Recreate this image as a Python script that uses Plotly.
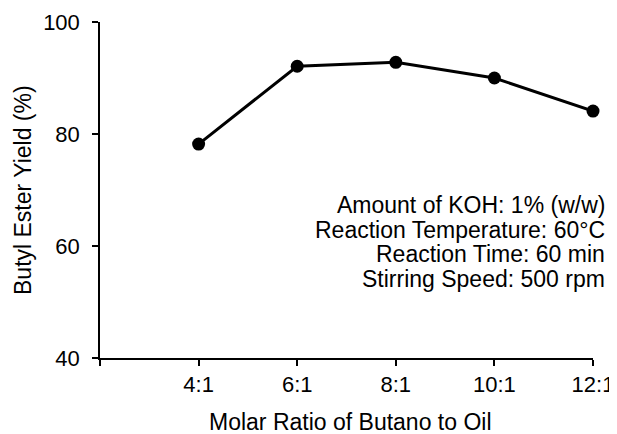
import plotly.graph_objects as go

categories = ["4:1", "6:1", "8:1", "10:1", "12:1"]
yield_pct = [78.2, 92.1, 92.8, 90.0, 84.1]
y_ticks = [40, 60, 80, 100]
conditions = [
    "Amount of KOH: 1% (w/w)",
    "Reaction Temperature: 60°C",
    "Reaction Time: 60 min",
    "Stirring Speed: 500 rpm",
]

FONT = "Liberation Sans, Arial, sans-serif"
x_pos = list(range(1, len(categories) + 1))

# page body has an 8px default margin; plot area targets x 100..593, y 22..358
fig = go.Figure()
fig.add_trace(go.Scatter(
    x=x_pos, y=yield_pct, mode="lines+markers",
    line=dict(color="black", width=3),
    marker=dict(color="black", size=13),
    showlegend=False, cliponaxis=False,
))

fig.update_layout(
    width=609, height=426,
    margin=dict(l=92, r=24, t=14, b=76, autoexpand=False),
    paper_bgcolor="white", plot_bgcolor="white",
    font=dict(family=FONT, size=22, color="black"),
    xaxis=dict(
        range=[0, len(categories)],
        tickmode="array",
        tickvals=[0] + x_pos,
        ticktext=[""] + categories,
        ticks="outside", ticklen=6, tickwidth=1.5, tickcolor="black",
        showline=True, linecolor="black", linewidth=1.5,
        showgrid=False, zeroline=False, automargin=False,
        tickfont=dict(size=22),
    ),
    yaxis=dict(
        range=[40, 100],
        tickvals=y_ticks,
        ticks="outside", ticklen=6, tickwidth=1.5, tickcolor="black",
        showline=True, linecolor="black", linewidth=1.5,
        showgrid=False, zeroline=False, automargin=False,
        ticklabelstandoff=8,
        tickfont=dict(size=22),
    ),
)

PW, PH, PL, PB = 493, 336, 100, 358

def px(x):
    return (x - PL) / PW

def py(y):
    return (PB - y) / PH

# axis titles
fig.add_annotation(text="Molar Ratio of Butano to Oil", xref="paper", yref="paper",
                   x=px(350), y=py(422), xanchor="center", yanchor="middle",
                   showarrow=False, font=dict(size=23))
fig.add_annotation(text="Butyl Ester Yield (%)", xref="paper", yref="paper",
                   x=px(23), y=py(190), xanchor="center", yanchor="middle",
                   textangle=-90, showarrow=False, font=dict(size=23))

# condition text
line_y = [205, 230, 254, 279]
for txt, ly in zip(conditions, line_y):
    fig.add_annotation(text=txt, xref="paper", yref="paper",
                       x=px(607), y=py(ly),
                       xanchor="right", yanchor="middle", align="right",
                       showarrow=False, font=dict(size=23))

fig.write_html("out.html")
